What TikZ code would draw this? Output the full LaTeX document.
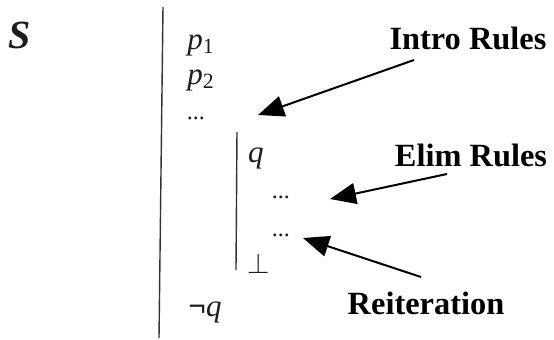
\documentclass[tikz,border=0pt]{standalone}
\usepackage{fontspec}
\setmainfont{Liberation Serif}
\usetikzlibrary{arrows.meta,calc}
\definecolor{ProofInk}{HTML}{1C1C1C}
\definecolor{ProofRule}{HTML}{333333}
\tikzset{
  proof/term/.style={
    font=\fontsize{15.5}{18}\selectfont\itshape, text=ProofInk, inner sep=0pt
  },
  proof/dots/.style={font=\fontsize{12}{14}\selectfont, text=ProofInk, inner sep=0pt},
  proof/label/.style={
    font=\fontsize{16.2}{19}\selectfont\bfseries, text=black, inner sep=0pt
  },
  proof/bar/.style={line width=.7pt, draw=ProofRule},
  proof/arrow/.style={
    -{Triangle[length=13pt,width=10.5pt]}, line width=1pt, draw=black
  }
}
\begin{document}
\begin{tikzpicture}[x=.5pt,y=-.5pt]
  \useasboundingbox (0,0) rectangle (554,339);
  % set name and the two subproof bars
  \node[proof/term,font=\fontsize{20}{22}\selectfont\bfseries\itshape] (set) at (20,35) {S};
  \draw[proof/bar] (163,7) -- (159,338);
  \draw[proof/bar] (237,132) -- (236,270);
  % premises
  \node[proof/term] (p1) at (201,45) {p\textup{\textsubscript{1}}};
  \node[proof/term] (p2) at (201,80) {p\textup{\textsubscript{2}}};
  \node[proof/dots] (pdots) at (196,118) {...};
  % subproof
  \node[proof/term] (q) at (256,158) {q};
  \node[proof/dots] (qdots1) at (281,197) {...};
  \node[proof/dots] (qdots2) at (281,235) {...};
  \node[proof/term,font=\fontsize{15}{18}\selectfont] (bot) at (259,263) {$\bot$};
  \node[proof/term] (negq) at (205,312) {\textup{\bfseries ¬}q};
  % rule labels
  \node[proof/label] (intro) at (468,38) {Intro Rules};
  \node[proof/label] (elim) at (471,155) {Elim Rules};
  \node[proof/label] (reit) at (426,303) {Reiteration};
  \coordinate (introtail) at (414,60);
  \coordinate (introtip) at (258,115);
  \coordinate (elimtail) at (447,174);
  \coordinate (elimtip) at (330,199);
  \coordinate (reittail) at (421,277);
  \coordinate (reittip) at (303,238);
  \draw[proof/arrow] (introtail) -- (introtip);
  \draw[proof/arrow] (elimtail) -- (elimtip);
  \draw[proof/arrow] (reittail) -- (reittip);
\end{tikzpicture}
\end{document}
